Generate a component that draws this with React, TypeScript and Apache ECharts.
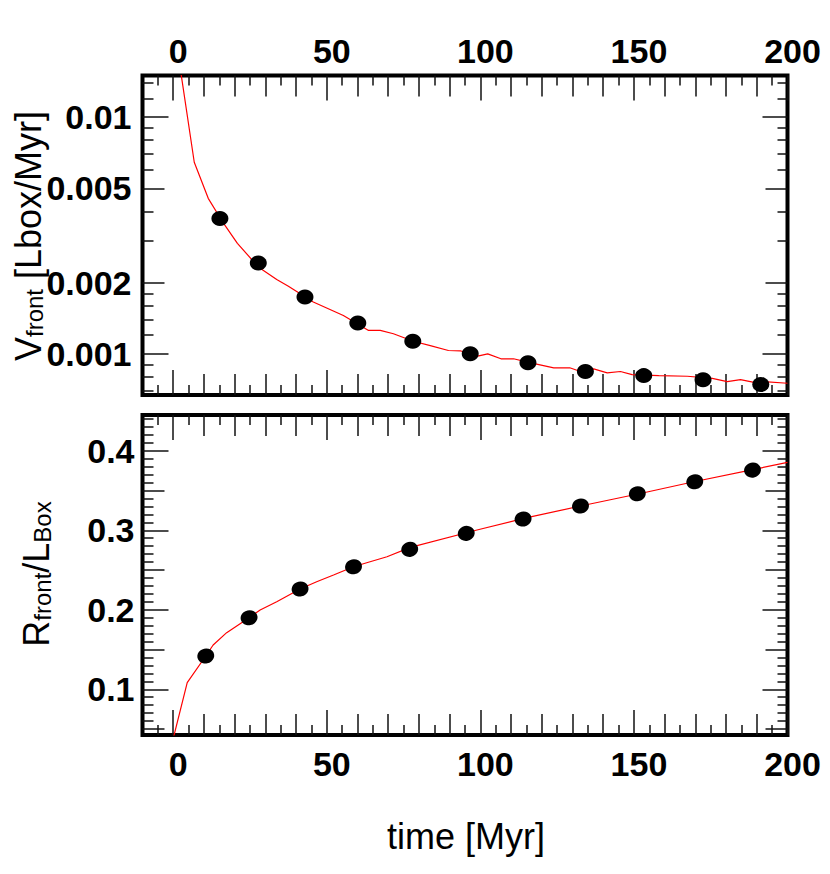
import React, { useEffect, useRef } from 'react';
import * as echarts from 'echarts';

// ---------- axis ranges ----------
const X_MIN = -10;
const X_MAX = 200;
const V_MIN = 0.00067;
const V_MAX = 0.015;
const R_MIN = 0.0425;
const R_MAX = 0.445;

// ---------- tick / label values ----------
const xLabelValues = [0, 50, 100, 150, 200];
const xMajorTicks = [0, 50, 100, 150, 200];
const xMediumTicks = [10, 20, 30, 40, 60, 70, 80, 90, 110, 120, 130, 140, 160, 170, 180, 190];
const xMinorTicks = [-5, 5, 15, 25, 35, 45, 55, 65, 75, 85, 95, 105, 115, 125, 135, 145, 155, 165, 175, 185, 195];

const vLabelValues = [0.001, 0.002, 0.005, 0.01];
const vMajorTicks = [0.001, 0.01];
const vMediumTicks = [0.002, 0.005];
const vMinorTicks = [0.0007, 0.0008, 0.0009, 0.0012, 0.0014, 0.0016, 0.0018, 0.003, 0.004, 0.006, 0.007, 0.008, 0.009, 0.012, 0.014];

const rLabelValues = [0.1, 0.2, 0.3, 0.4];
const rMajorTicks = [0.1, 0.2, 0.3, 0.4];
const rMediumTicks = [0.05, 0.15, 0.25, 0.35];
const rMinorTicks = [
  0.06, 0.07, 0.08, 0.09, 0.11, 0.12, 0.13, 0.14, 0.16, 0.17, 0.18, 0.19,
  0.21, 0.22, 0.23, 0.24, 0.26, 0.27, 0.28, 0.29, 0.31, 0.32, 0.33, 0.34,
  0.36, 0.37, 0.38, 0.39, 0.41, 0.42, 0.43, 0.44,
];

// ---------- data: top panel (front velocity) ----------
const velDotTime = [15.2, 27.7, 42.9, 60.1, 78.0, 96.7, 115.5, 134.2, 153.2, 172.5, 191.3];
const velDotValue = [0.00373, 0.00242, 0.00174, 0.00135, 0.00113, 0.001, 0.000916, 0.000842, 0.000809, 0.000778, 0.000742];

const velLineTime = [
  2.5, 6.85, 11.4, 15.9, 20.9, 27.7, 33.7, 37.5, 45.6, 55.4, 63.6, 67.4, 71.7, 78.2,
  83.7, 89.6, 93.5, 98.4, 102.4, 106.7, 110.8, 115.7, 123.9, 129.1, 132.6, 136.9,
  141.3, 145.6, 149.4, 158.1, 167.4, 175.5, 180.4, 184.7, 189.1, 192.3, 200,
];
const velLineValue = [
  0.0154, 0.00645, 0.00454, 0.00364, 0.00293, 0.00233, 0.00206, 0.00193, 0.001656, 0.001453,
  0.001256, 0.001256, 0.001216, 0.00113, 0.001083, 0.001033, 0.00103, 0.000974, 0.001,
  0.000953, 0.000953, 0.000921, 0.000873, 0.000873, 0.000842, 0.000864, 0.000831, 0.000842,
  0.000817, 0.000809, 0.000804, 0.000788, 0.000763, 0.000778, 0.000758, 0.000763, 0.000751,
];

// ---------- data: bottom panel (front radius) ----------
const radDotTime = [10.6, 24.7, 41.3, 58.7, 77.0, 95.4, 113.9, 132.6, 151.1, 169.8, 188.6];
const radDotValue = [0.1419, 0.190, 0.2261, 0.2541, 0.276, 0.2961, 0.3141, 0.3305, 0.3459, 0.361, 0.3757];

const radLineTime = [
  0, 4.56, 10.6, 13.0, 17.4, 24.7, 28.3, 33.7, 41.3, 46.7, 52.2, 58.7, 63.0, 69.6,
  77.2, 98.9, 114.1, 132.6, 153.2, 169.5, 189.1, 200,
];
const radLineValue = [
  0.038, 0.1083, 0.1419, 0.1557, 0.1712, 0.190, 0.1997, 0.2101, 0.2261, 0.2353, 0.2437,
  0.2541, 0.2592, 0.2667, 0.2785, 0.3003, 0.315, 0.3305, 0.3472, 0.361, 0.3766, 0.3854,
];

const FONT = '"Liberation Sans", Arial, Helvetica, sans-serif';
const TICK_COLOR = '#111';
const LABEL_SIZE = 34;

const labelRich = {
  l: { fontSize: LABEL_SIZE, fontWeight: 'bold', fontFamily: FONT, color: '#000' },
};

const fmt = (v: number) => '{l|' + String(parseFloat(Number(v).toPrecision(3))) + '}';

function xAxisCfg(gridIndex: number, position: string, ticks: number[], len: number, labels?: number[], margin?: number) {
  return {
    type: 'value',
    gridIndex,
    position,
    min: X_MIN,
    max: X_MAX,
    axisLine: { show: false, onZero: false },
    splitLine: { show: false },
    axisTick: { show: true, inside: true, length: len, customValues: ticks, lineStyle: { color: TICK_COLOR, width: 1.5 } },
    axisLabel: labels
      ? {
          show: true,
          customValues: labels,
          fontSize: LABEL_SIZE,
          fontWeight: 'bold',
          fontFamily: FONT,
          color: '#000',
          margin: margin ?? 10,
          padding: [0, 0, 0, 10],
          formatter: fmt,
          rich: labelRich,
        }
      : { show: false },
  };
}

function yAxisCfg(
  gridIndex: number,
  position: string,
  type: string,
  min: number,
  max: number,
  ticks: number[],
  len: number,
  labels?: number[],
  margin?: number,
) {
  const cfg: any = {
    type,
    gridIndex,
    position,
    min,
    max,
    axisLine: { show: false, onZero: false },
    splitLine: { show: false },
    axisTick: { show: true, inside: true, length: len, customValues: ticks, lineStyle: { color: TICK_COLOR, width: 1.5 } },
    axisLabel: labels
      ? {
          show: true,
          customValues: labels,
          fontSize: LABEL_SIZE,
          fontWeight: 'bold',
          fontFamily: FONT,
          color: '#000',
          margin: margin ?? 10,
          formatter: fmt,
          rich: labelRich,
        }
      : { show: false },
  };
  if (type === 'log') cfg.logBase = 10;
  return cfg;
}

const zip = (a: number[], b: number[]) => a.map((v, i) => [v, b[i]]);

export default function App() {
  const ref = useRef<HTMLDivElement>(null);

  useEffect(() => {
    if (!ref.current) return;
    const chart = echarts.init(ref.current, undefined, { renderer: 'svg' });

    const gridBase = {
      left: 142.5,
      right: 42.5,
      show: true,
      borderWidth: 4,
      borderColor: '#000',
      backgroundColor: 'transparent',
      containLabel: false,
      outerBoundsMode: 'none',
    };

    const xAxis = [
      // grid 0 (top panel) — labels on top
      xAxisCfg(0, 'top', xMajorTicks, 25, xLabelValues, 8),
      xAxisCfg(0, 'top', xMediumTicks, 21),
      xAxisCfg(0, 'top', xMinorTicks, 10),
      xAxisCfg(0, 'bottom', xMajorTicks, 25),
      xAxisCfg(0, 'bottom', xMediumTicks, 21),
      xAxisCfg(0, 'bottom', xMinorTicks, 10),
      // grid 1 (bottom panel) — labels on bottom
      xAxisCfg(1, 'bottom', xMajorTicks, 25, xLabelValues, 12),
      xAxisCfg(1, 'bottom', xMediumTicks, 21),
      xAxisCfg(1, 'bottom', xMinorTicks, 10),
      xAxisCfg(1, 'top', xMajorTicks, 25),
      xAxisCfg(1, 'top', xMediumTicks, 21),
      xAxisCfg(1, 'top', xMinorTicks, 10),
    ];

    const yAxis = [
      yAxisCfg(0, 'left', 'log', V_MIN, V_MAX, vMajorTicks, 26, vLabelValues, 11),
      yAxisCfg(0, 'left', 'log', V_MIN, V_MAX, vMediumTicks, 22),
      yAxisCfg(0, 'left', 'log', V_MIN, V_MAX, vMinorTicks, 11),
      yAxisCfg(0, 'right', 'log', V_MIN, V_MAX, vMajorTicks, 25),
      yAxisCfg(0, 'right', 'log', V_MIN, V_MAX, vMediumTicks, 22),
      yAxisCfg(0, 'right', 'log', V_MIN, V_MAX, vMinorTicks, 10),
      yAxisCfg(1, 'left', 'value', R_MIN, R_MAX, rMajorTicks, 26, rLabelValues, 8),
      yAxisCfg(1, 'left', 'value', R_MIN, R_MAX, rMediumTicks, 22),
      yAxisCfg(1, 'left', 'value', R_MIN, R_MAX, rMinorTicks, 11),
      yAxisCfg(1, 'right', 'value', R_MIN, R_MAX, rMajorTicks, 25),
      yAxisCfg(1, 'right', 'value', R_MIN, R_MAX, rMediumTicks, 22),
      yAxisCfg(1, 'right', 'value', R_MIN, R_MAX, rMinorTicks, 10),
    ];

    const titleRich = {
      a: { fontSize: 36, fontFamily: FONT, color: '#000', verticalAlign: 'bottom' },
      b: { fontSize: 24, fontFamily: FONT, color: '#000', verticalAlign: 'bottom' },
    };

    chart.setOption({
      animation: false,
      backgroundColor: '#fff',
      grid: [
        { ...gridBase, top: 75.5, height: 319.5 },
        { ...gridBase, top: 415, height: 320 },
      ],
      xAxis,
      yAxis,
      series: [
        {
          type: 'line',
          xAxisIndex: 0,
          yAxisIndex: 0,
          data: zip(velLineTime, velLineValue),
          showSymbol: false,
          symbol: 'none',
          clip: true,
          lineStyle: { color: '#ff0000', width: 1.2 },
          z: 2,
        },
        {
          type: 'scatter',
          xAxisIndex: 0,
          yAxisIndex: 0,
          data: zip(velDotTime, velDotValue),
          symbol: 'circle',
          symbolSize: [17, 15],
          itemStyle: { color: '#000', opacity: 1 },
          z: 3,
        },
        {
          type: 'line',
          xAxisIndex: 6,
          yAxisIndex: 6,
          data: zip(radLineTime, radLineValue),
          showSymbol: false,
          symbol: 'none',
          clip: true,
          lineStyle: { color: '#ff0000', width: 1.2 },
          z: 2,
        },
        {
          type: 'scatter',
          xAxisIndex: 6,
          yAxisIndex: 6,
          data: zip(radDotTime, radDotValue),
          symbol: 'circle',
          symbolSize: [17, 15],
          symbolRotate: 12,
          itemStyle: { color: '#000', opacity: 1 },
          z: 3,
        },
      ],
      graphic: [
        {
          type: 'text',
          x: 28,
          y: 236,
          rotation: Math.PI / 2,
          style: {
            text: '{a|V}{b|front}{a| [Lbox/Myr]}',
            rich: titleRich,
            align: 'center',
            verticalAlign: 'middle',
          },
        },
        {
          type: 'text',
          x: 36,
          y: 574,
          rotation: Math.PI / 2,
          style: {
            text: '{a|R}{b|front}{a|/L}{b|Box}',
            rich: titleRich,
            align: 'center',
            verticalAlign: 'middle',
          },
        },
        {
          type: 'text',
          x: 466,
          y: 836,
          style: {
            text: 'time [Myr]',
            fontSize: 36,
            fontFamily: FONT,
            fill: '#000',
            align: 'center',
            verticalAlign: 'middle',
          },
        },
      ],
    });

    return () => chart.dispose();
  }, []);

  return (
    <div
      ref={ref}
      style={{ position: 'fixed', left: 0, top: 0, width: 830, height: 874, background: '#fff' }}
    />
  );
}
